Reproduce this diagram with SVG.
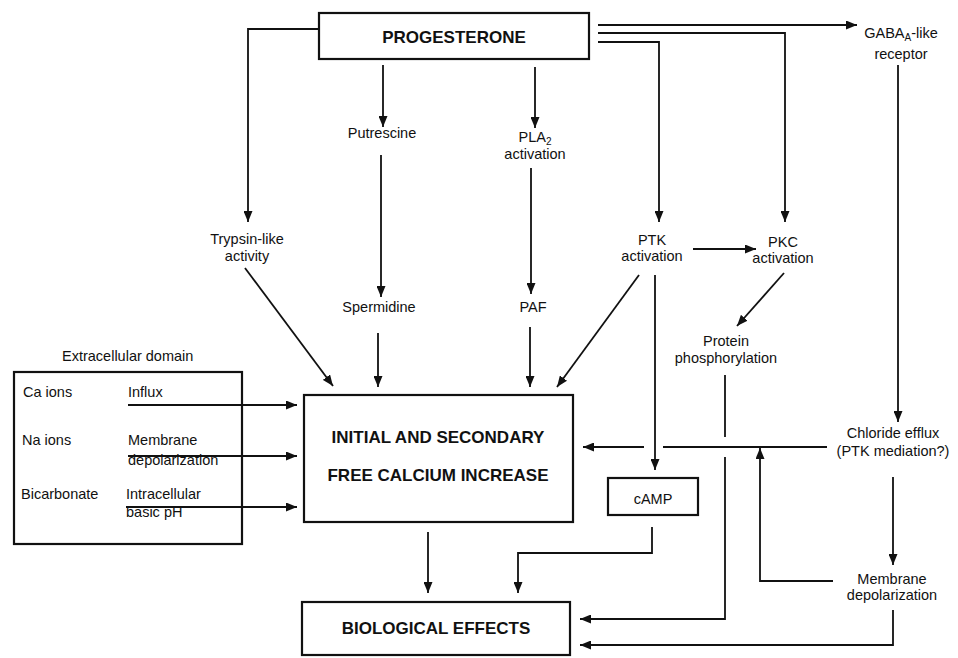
<svg xmlns="http://www.w3.org/2000/svg" width="958" height="658" viewBox="0 0 958 658">
<defs>
<marker id="ah" markerWidth="11" markerHeight="9" refX="11" refY="4.5" orient="auto" markerUnits="userSpaceOnUse">
<path d="M0,0 L11,4.5 L0,9 z" fill="#111"/>
</marker>
<style>
.t{font-family:"Liberation Sans",Arial,sans-serif;font-size:14.5px;fill:#111;text-anchor:middle}
.l{text-anchor:start}
.b{font-family:"Liberation Sans",Arial,sans-serif;font-size:17px;font-weight:bold;fill:#111;text-anchor:middle}
.box{fill:none;stroke:#111;stroke-width:2.2}
.c{fill:none;stroke:#111;stroke-width:1.8}
.a{marker-end:url(#ah)}
</style>
</defs>
<rect width="958" height="658" fill="#fff"/>

<g id="connectors">
<!-- from progesterone -->
<path class="c a" d="M318,29 H248 V222"/>
<path class="c a" d="M383,65 V127"/>
<path class="c a" d="M535,67 V128"/>
<path class="c a" d="M598,25 H857"/>
<path class="c a" d="M598,33 H785 V222"/>
<path class="c a" d="M598,42 H659 V222"/>
<!-- middle chains -->
<path class="c a" d="M381,155 V297"/>
<path class="c a" d="M531,168 V294"/>
<path class="c a" d="M378,333 V387"/>
<path class="c a" d="M530,327 V387"/>
<path class="c a" d="M245,268 L333,386"/>
<path class="c a" d="M639,275 L557,387"/>
<path class="c a" d="M693,249 H756"/>
<path class="c a" d="M784,273 L737,326"/>
<path class="c a" d="M655,275 V470"/>
<!-- protein phosphorylation to biological effects (gap at crossing) -->
<path class="c" d="M725,375 V437"/>
<path class="c a" d="M725,457 V619 H580"/>
<!-- GABA to chloride -->
<path class="c a" d="M898,65 V422"/>
<!-- chloride efflux to calcium (gap at PTK line) -->
<path class="c" d="M827,447 H663"/>
<path class="c a" d="M644,447 H583"/>
<!-- chloride to membrane depolarization -->
<path class="c a" d="M893,477 V565"/>
<!-- membrane depolarization feedback -->
<path class="c a" d="M833,581 H760 V448"/>
<path class="c a" d="M893,610 V645 H580"/>
<!-- to biological effects -->
<path class="c a" d="M428,532 V593"/>
<path class="c a" d="M652,527 V553 H518 V593"/>
<!-- extracellular arrows -->
<path class="c a" d="M128,405 H297"/>
<path class="c a" d="M128,456 H297"/>
<path class="c a" d="M126,507 H297"/>
</g>

<g id="progesterone">
<rect class="box" x="319" y="13" width="270" height="46"/>
<text class="b" x="454" y="43">PROGESTERONE</text>
</g>
<g id="putrescine"><text class="t" x="382" y="138">Putrescine</text></g>
<g id="pla2">
<text class="t" x="535" y="142">PLA<tspan font-size="10" dy="3">2</tspan></text>
<text class="t" x="535" y="159">activation</text>
</g>
<g id="trypsin">
<text class="t" x="247" y="244">Trypsin-like</text>
<text class="t" x="247" y="261">activity</text>
</g>
<g id="spermidine"><text class="t" x="379" y="312">Spermidine</text></g>
<g id="paf"><text class="t" x="533" y="312">PAF</text></g>
<g id="ptk">
<text class="t" x="652" y="245">PTK</text>
<text class="t" x="652" y="261">activation</text>
</g>
<g id="pkc">
<text class="t" x="783" y="247">PKC</text>
<text class="t" x="783" y="263">activation</text>
</g>
<g id="protein">
<text class="t" x="726" y="346">Protein</text>
<text class="t" x="726" y="363">phosphorylation</text>
</g>
<g id="gaba">
<text class="t" x="901" y="38">GABA<tspan font-size="10" dy="3">A</tspan><tspan dy="-3">-like</tspan></text>
<text class="t" x="901" y="59">receptor</text>
</g>
<g id="chloride">
<text class="t" x="893" y="438">Chloride efflux</text>
<text class="t" x="893" y="456">(PTK mediation?)</text>
</g>
<g id="membrane-depol">
<text class="t" x="892" y="584">Membrane</text>
<text class="t" x="892" y="600">depolarization</text>
</g>
<g id="calcium">
<rect class="box" x="304" y="395" width="269" height="127"/>
<text class="b" x="438" y="443">INITIAL AND SECONDARY</text>
<text class="b" x="438" y="481">FREE CALCIUM INCREASE</text>
</g>
<g id="camp">
<rect class="box" x="608" y="478" width="90" height="37"/>
<text class="t" x="653" y="504" font-size="16">cAMP</text>
</g>
<g id="biological">
<rect class="box" x="302" y="602" width="268" height="53"/>
<text class="b" x="436" y="634">BIOLOGICAL EFFECTS</text>
</g>
<g id="extracellular">
<text class="t l" x="62" y="361">Extracellular domain</text>
<rect class="box" x="14" y="372" width="228" height="172"/>
<text class="t l" x="23" y="397">Ca ions</text>
<text class="t l" x="128" y="397">Influx</text>
<text class="t l" x="22" y="445">Na ions</text>
<text class="t l" x="128" y="445">Membrane</text>
<text class="t l" x="128" y="465">depolarization</text>
<text class="t l" x="21" y="499">Bicarbonate</text>
<text class="t l" x="126" y="499">Intracellular</text>
<text class="t l" x="126" y="517">basic  pH</text>
</g>
</svg>
